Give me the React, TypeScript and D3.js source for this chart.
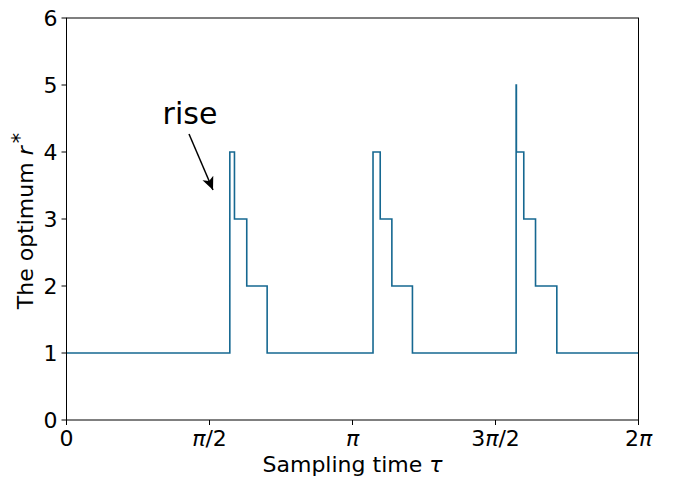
import React, { useEffect, useRef } from 'react'
import * as d3 from 'd3'

// step breakpoints (tau) and the optimum r* taken from that point on
const tauBreaks = [0, 1.794, 1.845, 1.98, 2.204, 3.367, 3.446, 3.574, 3.8, 4.939, 4.942, 5.023, 5.152, 5.386, 2 * Math.PI]
const rValues = [1, 4, 3, 2, 1, 4, 3, 2, 1, 5, 4, 3, 2, 1, 1]

const xTicks = [0, Math.PI / 2, Math.PI, 3 * Math.PI / 2, 2 * Math.PI]
const xTickLabels = [['0', ''], ['π', '/2'], ['π', ''], ['3', 'π/2'], ['2', 'π']]
const yTicks = [0, 1, 2, 3, 4, 5, 6]

const W = 685, H = 479
const margin = { top: 18, right: 46.5, bottom: 59, left: 66.5 }
const FONT = 'DejaVu Sans, sans-serif'
const FS = 22

export default function App() {
  const ref = useRef<SVGSVGElement>(null)

  useEffect(() => {
    const svg = d3.select(ref.current)
    svg.selectAll('*').remove()
    const width = W - margin.left - margin.right
    const height = H - margin.top - margin.bottom

    const x = d3.scaleLinear().domain([0, 2 * Math.PI]).range([margin.left, margin.left + width])
    const y = d3.scaleLinear().domain([0, 6]).range([margin.top + height, margin.top])

    const pts = tauBreaks.map((t, i) => [t, rValues[i]] as [number, number])
    const line = d3.line<[number, number]>()
      .x(d => x(d[0]))
      .y(d => y(d[1]))
      .curve(d3.curveStepAfter)

    svg.append('path')
      .attr('d', line(pts))
      .attr('fill', 'none')
      .attr('stroke', '#166891')
      .attr('stroke-width', 1.6)

    // frame
    svg.append('rect')
      .attr('x', margin.left).attr('y', margin.top)
      .attr('width', width).attr('height', height)
      .attr('fill', 'none').attr('stroke', 'black').attr('stroke-width', 1)

    // x axis
    const gx = svg.append('g')
    xTicks.forEach((t, i) => {
      gx.append('line')
        .attr('x1', x(t)).attr('x2', x(t))
        .attr('y1', margin.top + height).attr('y2', margin.top + height + 5)
        .attr('stroke', 'black')
      const txt = gx.append('text')
        .attr('x', x(t)).attr('y', margin.top + height + 26)
        .attr('text-anchor', 'middle')
        .attr('font-family', FONT).attr('font-size', FS)
      const [a, b] = xTickLabels[i]
      if (a === 'π') {
        txt.append('tspan').attr('font-style', 'italic').text('π')
        txt.append('tspan').text(b)
      } else if (b === 'π/2') {
        txt.append('tspan').text(a)
        txt.append('tspan').attr('font-style', 'italic').text('π')
        txt.append('tspan').text('/2')
      } else if (b === 'π') {
        txt.append('tspan').text(a)
        txt.append('tspan').attr('font-style', 'italic').text('π')
      } else {
        txt.text(a)
      }
    })

    // y axis
    const gy = svg.append('g')
    yTicks.forEach(t => {
      gy.append('line')
        .attr('x1', margin.left - 5).attr('x2', margin.left)
        .attr('y1', y(t)).attr('y2', y(t))
        .attr('stroke', 'black')
      gy.append('text')
        .attr('x', margin.left - 9).attr('y', y(t))
        .attr('dy', '0.36em')
        .attr('text-anchor', 'end')
        .attr('font-family', FONT).attr('font-size', FS)
        .text(t)
    })

    // axis labels
    const xl = svg.append('text')
      .attr('x', margin.left + width / 2).attr('y', 472)
      .attr('text-anchor', 'middle')
      .attr('font-family', FONT).attr('font-size', FS)
    xl.append('tspan').text('Sampling time ')
    xl.append('tspan').attr('font-style', 'italic').text('τ')

    const yl = svg.append('text')
      .attr('transform', `translate(33,${margin.top + height / 2 + 2}) rotate(-90)`)
      .attr('text-anchor', 'middle')
      .attr('font-family', FONT).attr('font-size', FS)
    yl.append('tspan').text('The optimum ')
    yl.append('tspan').attr('font-style', 'italic').text('r')
    yl.append('tspan').attr('dx', 3).attr('dy', -6).attr('font-size', 21).text('*')

    // annotation
    svg.append('defs').append('marker')
      .attr('id', 'arrowhead')
      .attr('viewBox', '0 0 10 10')
      .attr('refX', 10).attr('refY', 5)
      .attr('markerWidth', 13).attr('markerHeight', 13)
      .attr('markerUnits', 'userSpaceOnUse')
      .attr('orient', 'auto')
      .append('path').attr('d', 'M0,0.5 L10,5 L0,9.5 L2.5,5 Z').attr('fill', 'black')

    svg.append('line')
      .attr('x1', 189).attr('y1', 134)
      .attr('x2', 213).attr('y2', 190)
      .attr('stroke', 'black').attr('stroke-width', 1.5)
      .attr('marker-end', 'url(#arrowhead)')

    svg.append('text')
      .attr('x', 190).attr('y', 124)
      .attr('text-anchor', 'middle')
      .attr('font-family', FONT).attr('font-size', 30)
      .text('rise')
  }, [])

  return (
    <svg ref={ref} width={W} height={H} style={{ position: 'absolute', left: 0, top: 0, background: 'white' }} />
  )
}
